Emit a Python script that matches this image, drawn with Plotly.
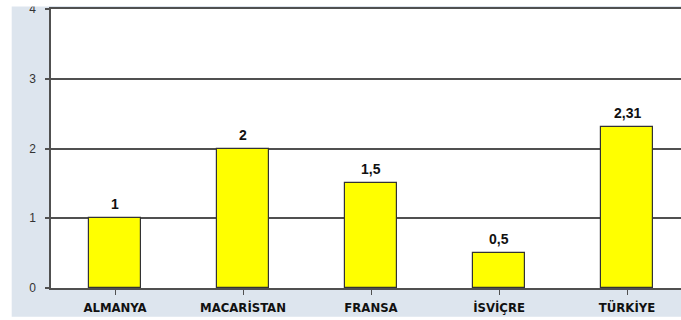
import plotly.graph_objects as go

# Bar chart data
countries = ["ALMANYA", "MACARİSTAN", "FRANSA", "İSVİÇRE", "TÜRKİYE"]
values = [1, 2, 1.5, 0.5, 2.31]
y_ticks = [0, 1, 2, 3, 4]

W, H = 681, 320
ML, MR, MT, MB = 51, 0, 9, 32
PW, PH = W - ML - MR, H - MT - MB

AXIS = "#505050"
PANEL = "#dde5ee"


def px_x(p):
    return (p - ML) / PW


def px_y(p):
    return (H - MB - p) / PH


def fmt(v):
    return f"{v:g}".replace(".", ",")


fig = go.Figure(
    go.Bar(
        x=list(range(len(countries))),
        y=values,
        width=0.41,
        marker=dict(color="#ffff00", line=dict(color="#333333", width=1.2)),
        hoverinfo="skip",
    )
)

# value labels above each bar
for i, v in enumerate(values):
    fig.add_annotation(
        x=i, y=v, text=fmt(v), showarrow=False, yanchor="bottom", yshift=4,
        font=dict(family="Liberation Sans, Arial, sans-serif", size=14,
                  color="#111111", weight="bold"),
    )

shapes = [
    # light panel behind the chart
    dict(type="rect", xref="paper", yref="paper", layer="below",
         x0=px_x(11.7), x1=px_x(W + 5), y0=px_y(316.7), y1=px_y(6),
         fillcolor=PANEL, line=dict(width=0)),
    # white plotting area
    dict(type="rect", xref="paper", yref="paper", layer="below",
         x0=0, x1=1, y0=0, y1=1, fillcolor="white", line=dict(width=0)),
    # white strip along the top edge
    dict(type="rect", xref="paper", yref="paper", layer="above",
         x0=px_x(-5), x1=px_x(ML - 2), y0=px_y(6.5), y1=px_y(-5),
         fillcolor="white", line=dict(width=0)),
]

fig.update_layout(
    width=W, height=H,
    margin=dict(l=ML, r=MR, t=MT, b=MB),
    paper_bgcolor="white",
    plot_bgcolor="rgba(0,0,0,0)",
    showlegend=False,
    shapes=shapes,
    bargap=0,
    xaxis=dict(
        range=[-0.5, -0.5 + PW / 128.0],
        tickmode="array",
        tickvals=list(range(len(countries))),
        ticktext=countries,
        tickson="boundaries",
        ticks="outside", ticklen=5, tickwidth=1, tickcolor=AXIS,
        showline=True, linecolor=AXIS, linewidth=1.5, mirror=True,
        showgrid=False, zeroline=False,
        ticklabelstandoff=2,
        tickfont=dict(family="Liberation Sans Narrow, DejaVu Sans Condensed, Arial Narrow, sans-serif",
                      size=13, color="#111111", weight="bold"),
    ),
    yaxis=dict(
        range=[0, 4],
        tickvals=y_ticks,
        ticks="outside", ticklen=4, tickwidth=1.5, tickcolor=AXIS,
        showline=True, linecolor=AXIS, linewidth=1.5,
        showgrid=True, gridcolor=AXIS, gridwidth=1.6,
        zeroline=False,
        ticklabelstandoff=7,
        tickfont=dict(family="Liberation Sans, Arial, sans-serif", size=12, color="#333333"),
    ),
)

fig.write_html("out.html")
